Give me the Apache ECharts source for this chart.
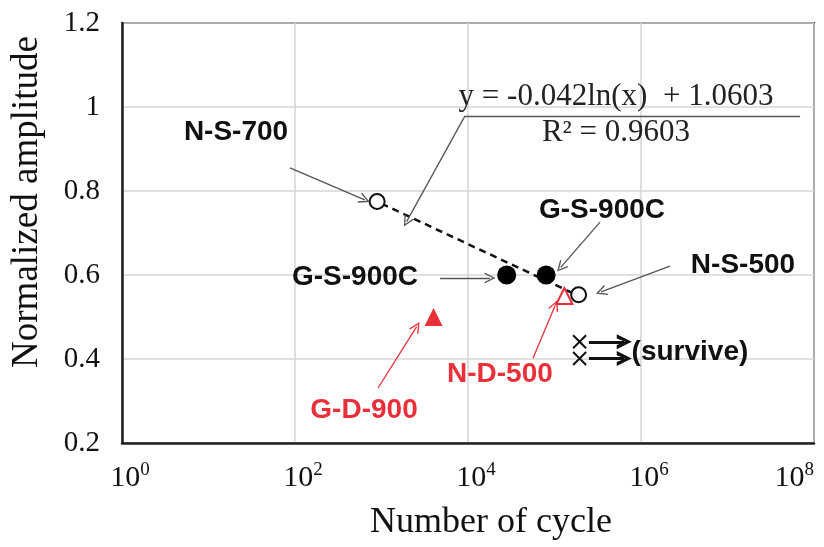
<!DOCTYPE html>
<html><head><meta charset="utf-8">
<script src="https://cdn.jsdelivr.net/npm/echarts@6/dist/echarts.min.js"></script>
<style>html,body{margin:0;padding:0;background:#fff}#c{width:824px;height:547px}</style>
</head><body><div id="c"></div>
<script>
// ---------------- data ----------------
// open black circles (N-S-700, N-S-500)
const openCircleCycles = [890, 190000];
const openCircleAmp = [0.775, 0.553];
// filled black circles (G-S-900C)
const filledCircleCycles = [28000, 80000];
const filledCircleAmp = [0.6, 0.6];
// open red triangle (N-D-500)
const openTriCycles = [130000];
const openTriAmp = [0.55];
// filled red triangle (G-D-900)
const filledTriCycles = [4000];
const filledTriAmp = [0.5];
// survived specimens (x marks)
const surviveCycles = [195000, 195000];
const surviveAmp = [0.441, 0.401];
// fitted trend line endpoints
const trendCycles = [1000, 170000];
const trendAmp = [0.770, 0.555];
// axis ticks
const xTickExponents = [0, 2, 4, 6, 8];
const yTicks = [0.2, 0.4, 0.6, 0.8, 1.0, 1.2];

// ---------------- annotations (data coordinates) ----------------
const annoTexts = ['N-S-700', 'G-S-900C', 'G-S-900C', 'N-S-500', 'G-D-900', 'N-D-500', '(survive)'];
const annoX = [20.8, 354000, 494, 15100000, 628, 23400, 3680000];
const annoY = [0.940, 0.755, 0.595, 0.624, 0.279, 0.364, 0.417];
const annoRed = [false, false, false, false, true, true, false];
const eqTexts = ['y = -0.042ln(x)  + 1.0603', 'R² = 0.9603'];
const eqX = [514000, 514000];
const eqY = [1.024, 0.938];
// arrows: [fromX, fromY, toX, toY]
const thinArrows = [
  [87.5, 0.855, 640, 0.779],
  [9230, 0.979, 1950, 0.727],
  [336000, 0.726, 118000, 0.618],
  [2160000, 0.621, 345000, 0.560],
  [4750, 0.593, 18000, 0.593],
  [912, 0.331, 2550, 0.477],
  [56400, 0.402, 102000, 0.528]
];
const redArrow = [false, false, false, false, false, true, true];
const eqUnderline = [9230, 0.979, 69000000, 0.979];
const surviveArrows = [
  [250000, 0.441, 640000, 0.441],
  [250000, 0.401, 640000, 0.401]
];

const RED = '#e8303a';
const SANS = '"Liberation Sans", Arial, sans-serif';
const SERIF = '"Liberation Serif", "Times New Roman", serif';
const thinHead = 'path://M50,0 L100,100 L86,100 L50,26 L14,100 L0,100 Z';
const thickHead = 'path://M50,0 L100,100 L72,100 L50,44 L28,100 L0,100 Z';

const zip = (xs, ys) => xs.map((x, i) => [x, ys[i]]);

const arrowData = thinArrows.map((a, i) => [
  { coord: [a[0], a[1]], symbol: 'none' },
  { coord: [a[2], a[3]], symbol: thinHead, lineStyle: { color: redArrow[i] ? RED : '#555' } }
]);
arrowData.push([
  { coord: [eqUnderline[0], eqUnderline[1]], symbol: 'none' },
  { coord: [eqUnderline[2], eqUnderline[3]], symbol: 'none' }
]);

const chart = echarts.init(document.getElementById('c'), null, { renderer: 'canvas' });
chart.setOption({
  backgroundColor: '#fff',
  animation: false,
  grid: { left: 122, right: 10, top: 23, bottom: 104, show: true, borderColor: '#333', borderWidth: 2, outerBoundsMode: 'none' },
  xAxis: {
    type: 'log', logBase: 10, min: 1, max: 1e8, interval: 2,
    axisLine: { show: true, lineStyle: { color: '#222', width: 2.5 } },
    axisTick: { show: false },
    minorTick: { show: false },
    splitLine: { show: true, lineStyle: { color: '#d6d6d6', width: 1.5 } },
    axisLabel: {
      margin: 18,
      padding: [0, 0, 0, 16],
      alignMaxLabel: 'right',
      formatter: v => {
        const e = Math.round(Math.log10(v));
        return xTickExponents.indexOf(e) >= 0 ? '{b|10}{s|' + e + '}' : '';
      },
      rich: {
        b: { fontFamily: SERIF, fontSize: 30, color: '#111', lineHeight: 34 },
        s: { fontFamily: SERIF, fontSize: 19, color: '#111', verticalAlign: 'top', lineHeight: 20 }
      }
    },
    name: 'Number of cycle', nameLocation: 'middle', nameGap: 62,
    nameTextStyle: { fontFamily: SERIF, fontSize: 36, color: '#111', padding: [0, 0, 0, 46] }
  },
  yAxis: {
    type: 'value', min: yTicks[0], max: yTicks[yTicks.length - 1], interval: 0.2,
    axisLine: { show: true, lineStyle: { color: '#222', width: 2.5 } },
    axisTick: { show: false },
    splitLine: { show: true, lineStyle: { color: '#d6d6d6', width: 1.5 } },
    axisLabel: { margin: 22, fontFamily: SERIF, fontSize: 29, color: '#111' },
    name: 'Normalized amplitude', nameLocation: 'middle', nameGap: 76, nameRotate: 90,
    nameTextStyle: { fontFamily: SERIF, fontSize: 37, color: '#111', padding: [0, 0, 0, 62] }
  },
  series: [
    {
      type: 'line', data: zip(trendCycles, trendAmp), symbol: 'none', z: 3,
      lineStyle: { color: '#111', width: 2.5, type: [7, 5] },
      markLine: {
        silent: true, symbol: ['none', 'none'], symbolSize: 11, precision: 10,
        label: { show: false },
        lineStyle: { color: '#555', width: 1.3, type: 'solid' },
        data: arrowData
      }
    },
    {
      type: 'line', data: [], symbol: 'none',
      markLine: {
        silent: true, symbol: ['none', thickHead], symbolSize: 15, precision: 10,
        label: { show: false },
        lineStyle: { color: '#111', width: 3, type: 'solid' },
        data: surviveArrows.map(a => [{ coord: [a[0], a[1]] }, { coord: [a[2], a[3]] }])
      }
    },
    {
      type: 'scatter', data: zip(openCircleCycles, openCircleAmp), symbol: 'circle', symbolSize: 15, z: 4,
      itemStyle: { color: '#fff', borderColor: '#111', borderWidth: 2, opacity: 1 }
    },
    {
      type: 'scatter', data: zip(filledCircleCycles, filledCircleAmp), symbol: 'circle', symbolSize: 19, z: 4,
      itemStyle: { color: '#000', opacity: 1 }
    },
    {
      type: 'scatter', data: zip(openTriCycles, openTriAmp), symbol: 'triangle', symbolSize: 16, z: 4,
      itemStyle: { color: '#fff', borderColor: RED, borderWidth: 2, opacity: 1 }
    },
    {
      type: 'scatter', data: zip(filledTriCycles, filledTriAmp), symbol: 'triangle', symbolSize: 18, z: 4,
      itemStyle: { color: RED, opacity: 1 }
    },
    {
      type: 'scatter', data: zip(surviveCycles, surviveAmp), symbol: 'path://M0,0L10,10M10,0L0,10', symbolSize: [13, 13], z: 4,
      itemStyle: { color: 'transparent', borderColor: '#111', borderWidth: 2, opacity: 1 }
    },
    {
      type: 'scatter', symbolSize: 0, silent: true, z: 6,
      itemStyle: { opacity: 1, color: 'transparent' },
      data: annoTexts.map((t, i) => ({
        name: t, value: [annoX[i], annoY[i]],
        label: { color: annoRed[i] ? RED : '#111' }
      })).concat(eqTexts.map((t, i) => ({
        name: t, value: [eqX[i], eqY[i]],
        label: { fontFamily: SERIF, fontWeight: 'normal', fontSize: 31, color: '#222' }
      }))),
      label: { show: true, position: 'inside', formatter: '{b}', fontFamily: SANS, fontWeight: 'bold', fontSize: 28, color: '#111', textBorderWidth: 0, opacity: 1 }
    }
  ]
});
</script>
</body></html>
